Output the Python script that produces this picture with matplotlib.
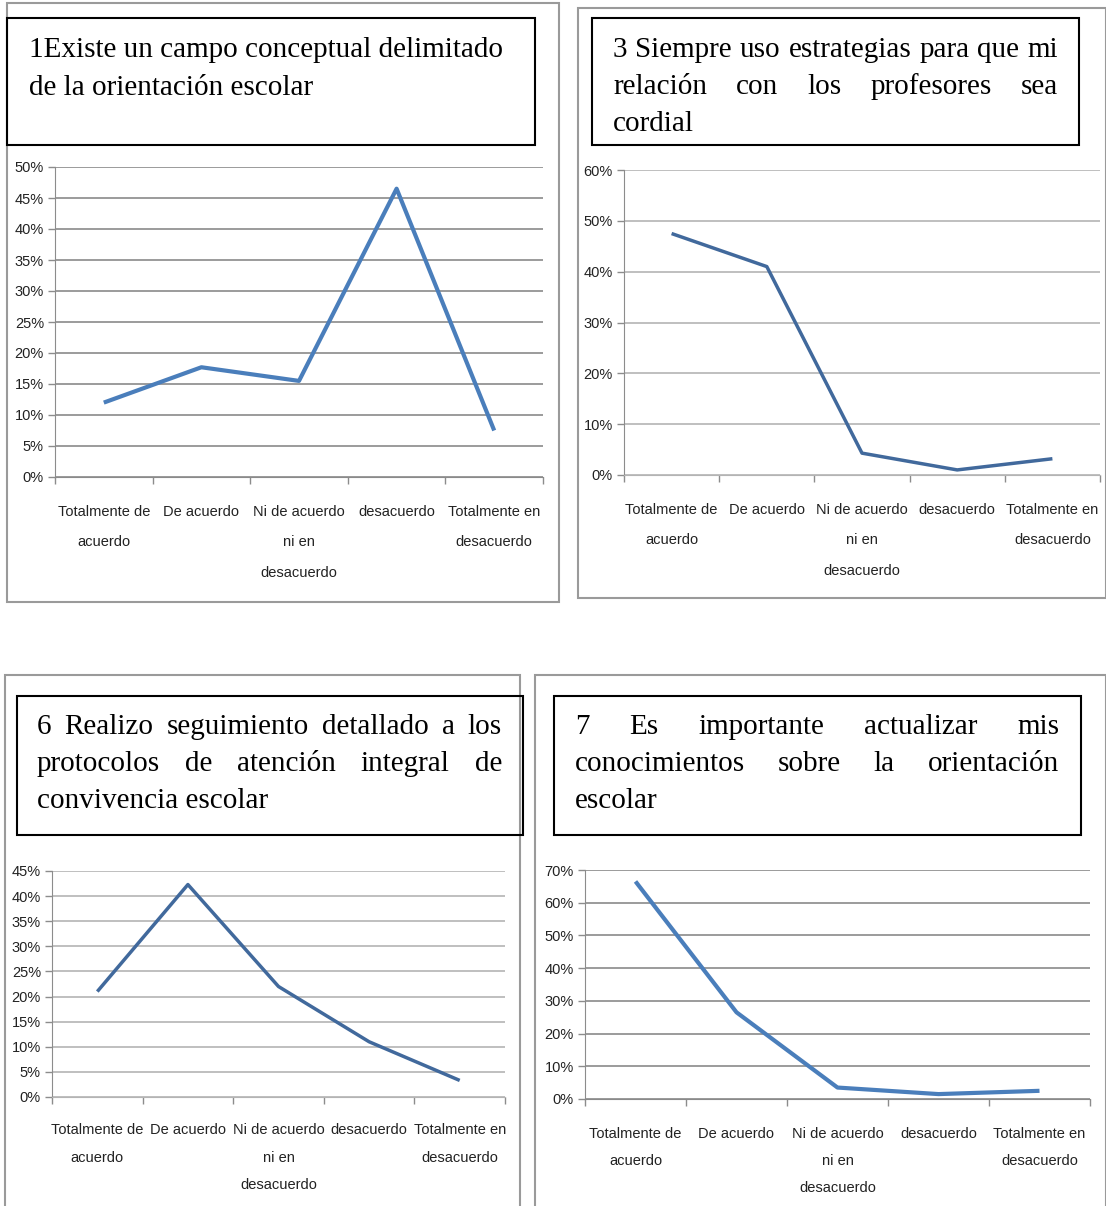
import matplotlib
matplotlib.use("Agg")
import matplotlib.pyplot as plt
from matplotlib.patches import Rectangle
from matplotlib.ticker import FuncFormatter, FixedLocator

W, H = 1106, 1206

categorias = ["Totalmente de\nacuerdo", "De acuerdo", "Ni de acuerdo\nni en\ndesacuerdo",
              "desacuerdo", "Totalmente en\ndesacuerdo"]

# porcentajes
p1 = [0.12, 0.177, 0.155, 0.465, 0.075]
p3 = [0.475, 0.41, 0.043, 0.01, 0.032]
p6 = [0.21, 0.423, 0.22, 0.11, 0.033]
p7 = [0.665, 0.265, 0.035, 0.015, 0.025]

t1 = ["1Existe un campo conceptual delimitado", "de la orientación escolar"]
t3 = ["3 Siempre uso estrategias para que mi", "relación con los profesores sea", "cordial"]
t6 = ["6 Realizo seguimiento detallado a los", "protocolos de atención integral de",
      "convivencia escolar"]
t7 = ["7 Es importante actualizar mis", "conocimientos sobre la orientación", "escolar"]

SERIF = ["Liberation Serif", "DejaVu Serif"]
NARROW = ["Liberation Sans Narrow", "Liberation Sans", "DejaVu Sans"]
FS_TIT = 21

fig = plt.figure(figsize=(W / 100, H / 100), dpi=100)
renderer = fig.canvas.get_renderer()


def fx(x):
    return x / W


def fy(y):
    return 1 - y / H


def caja(x0, y0, x1, y1, color, lw):
    fig.add_artist(Rectangle((fx(x0), fy(y1)), fx(x1) - fx(x0), fy(y0) - fy(y1),
                             transform=fig.transFigure, fill=False,
                             edgecolor=color, linewidth=lw))


def parrafo(lineas, x0, x1, y_base, paso, justificar):
    for i, linea in enumerate(lineas):
        y = fy(y_base + i * paso)
        ultima = i == len(lineas) - 1
        if not justificar or ultima:
            fig.text(fx(x0), y, linea, family=SERIF, fontsize=FS_TIT, va="baseline")
            continue
        palabras = linea.split(" ")
        anchos = []
        for p in palabras:
            t = fig.text(0, 0, p, family=SERIF, fontsize=FS_TIT)
            anchos.append(t.get_window_extent(renderer).width)
            t.remove()
        hueco = (x1 - x0 - sum(anchos)) / (len(palabras) - 1)
        x = x0
        for p, w in zip(palabras, anchos):
            fig.text(fx(x), y, p, family=SERIF, fontsize=FS_TIT, va="baseline")
            x += w + hueco


def grafico(box, valores, ymax, paso, color, lw, gcolor, lsp, pad):
    x0, ytop, x1, y0 = box
    ax = fig.add_axes([fx(x0), fy(y0), fx(x1) - fx(x0), fy(ytop) - fy(y0)])
    ax.plot(range(5), valores, color=color, linewidth=lw, solid_capstyle="butt")
    ax.set_xlim(-0.5, 4.5)
    ax.set_ylim(0, ymax)
    ticks = [k * paso for k in range(int(round(ymax / paso)) + 1)]
    ax.set_yticks(ticks)
    ax.yaxis.set_major_formatter(FuncFormatter(lambda v, _: f"{v * 100:.0f}%"))
    ax.set_xticks(range(5))
    ax.set_xticklabels(categorias, family=NARROW, fontsize=10.5, linespacing=lsp,
                       color="#222222")
    ax.xaxis.set_minor_locator(FixedLocator([k - 0.5 for k in range(6)]))
    ax.tick_params(axis="x", which="major", length=0, pad=pad)
    ax.tick_params(axis="x", which="minor", length=5, color="#8c8c8c", width=1)
    ax.tick_params(axis="y", length=5, color="#8c8c8c", width=1, pad=3)
    for lab in ax.get_yticklabels():
        lab.set_family(NARROW)
        lab.set_fontsize(10.5)
        lab.set_color("#222222")
    ax.grid(axis="y", color=gcolor, linewidth=1.2)
    ax.set_axisbelow(True)
    for s in ["top", "right"]:
        ax.spines[s].set_visible(False)
    ax.spines["left"].set_color("#8c8c8c")
    ax.spines["bottom"].set_color(gcolor)
    return ax


# panel 1
caja(7, 3, 559, 602, "#9a9a9a", 1.5)
caja(7, 18, 535, 145, "black", 1.5)
parrafo(t1, 29, 505, 57, 38, False)
grafico((55, 167, 543, 477), p1, 0.5, 0.05, "#4a7ebb", 3.0, "#8a8a8a", 2.5, 20)

# panel 3
caja(578, 8, 1106, 598, "#9a9a9a", 1.5)
caja(592, 18, 1079, 145, "black", 1.5)
parrafo(t3, 613, 1058, 57, 37, True)
grafico((624, 170, 1100, 475), p3, 0.6, 0.1, "#41699c", 2.5, "#b4b4b4", 2.5, 20)

# panel 6
caja(5, 675, 520, 1210, "#9a9a9a", 1.5)
caja(17, 696, 523, 835, "black", 1.5)
parrafo(t6, 37, 502, 734, 37, True)
grafico((52, 871, 505, 1097), p6, 0.45, 0.05, "#41699c", 2.5, "#b4b4b4", 2.2, 19)

# panel 7
caja(535, 675, 1106, 1210, "#9a9a9a", 1.5)
caja(554, 696, 1081, 835, "black", 1.5)
parrafo(t7, 575, 1059, 734, 37, True)
grafico((585, 870, 1090, 1099), p7, 0.7, 0.1, "#4a7ebb", 3.0, "#8a8a8a", 2.2, 20)

fig.savefig("out.png", dpi=100)
